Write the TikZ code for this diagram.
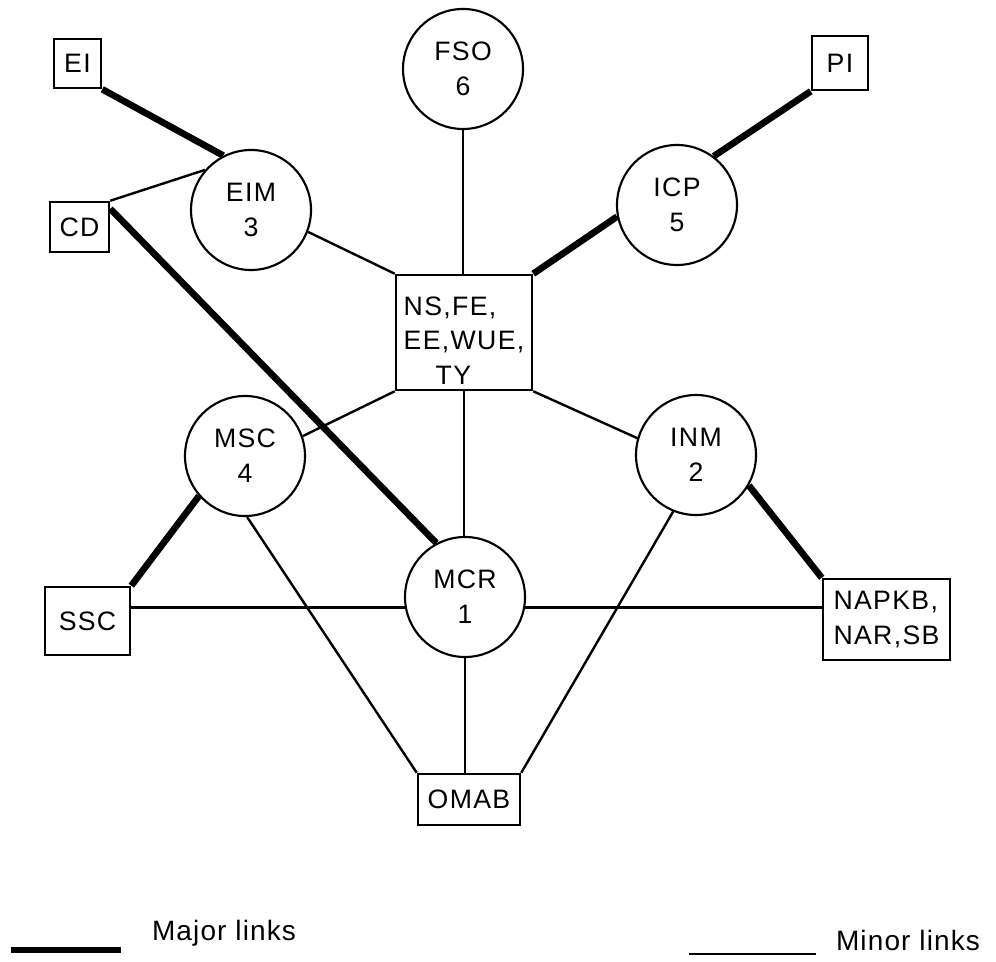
\documentclass[tikz,border=0pt]{standalone}
\usepackage{fontspec}
\newfontfamily\nodefont[LetterSpace=5]{Liberation Sans}
\newfontfamily\legfont[LetterSpace=4]{Liberation Sans}
\begin{document}
\begin{tikzpicture}[x=0.75pt,y=-0.75pt,
  nodetext/.style={font=\nodefont\fontsize{20pt}{26pt}\selectfont},
  circ/.style={circle,draw,line width=1.6pt,fill=white,minimum size=90pt,inner sep=0pt,align=center,nodetext},
  box/.style={rectangle,draw,line width=1.9pt,fill=white,inner sep=0pt,align=center,nodetext},
  major/.style={line width=5pt},
  minor/.style={line width=1.8pt},
  legtext/.style={font=\legfont\fontsize{21pt}{24pt}\selectfont,inner sep=0pt}]
\fill[white] (0,0) rectangle (996,962);
\useasboundingbox (0,0) rectangle (996,962);

% nodes
\node[box,minimum width=35.25pt,minimum height=36.75pt] (ei) at (77.5,63.5) {EI};
\node[box,minimum width=42pt,minimum height=40.5pt] (pi) at (840,63) {PI};
\node[box,minimum width=44.25pt,minimum height=37.5pt] (cd) at (79.5,227) {CD};
\node[circ] (fso) at (463,69) {FSO\\6};
\node[circ] (eim) at (251,210) {EIM\\3};
\node[circ] (icp) at (677,205) {ICP\\5};
\node[box,minimum width=102pt,minimum height=86.25pt,
  label={[name=cbtext,nodetext,align=left,yshift=-6pt,inner sep=0pt]center:NS,FE,\\EE,WUE,\\\hspace*{24pt}TY}] (cb) at (464,332.5) {};
\node[circ] (msc) at (245,456) {MSC\\4};
\node[circ] (inm) at (696,455) {INM\\2};
\node[circ] (mcr) at (465,597) {MCR\\1};
\node[box,minimum width=63.75pt,minimum height=51pt] (ssc) at (87.5,621) {SSC};
\node[box,minimum width=95.25pt,minimum height=60.75pt,align=left] (nap) at (886.5,619.5) {NAPKB,\\NAR,SB};
\node[box,minimum width=76.5pt,minimum height=38.25pt] (omab) at (469,799.5) {OMAB};

% major links
\draw[major] (ei.south east) -- (eim.117);
\draw[major] ([yshift=-6pt]cd.north east) -- (mcr.118);
\draw[major] (pi.south west) -- (icp.53);
\draw[major] (cb.north east) -- (icp.191);
\draw[major] (ssc.north east) -- (msc.221);
\draw[major] (nap.north west) -- (inm.-30);

% minor links
\draw[minor] (cd.north east) -- (eim.139);
\draw[minor] (fso.south) -- (fso.south |- cb.north);
\draw[minor] (eim.-21) -- (cb.north west);
\draw[minor] (cb.south west) -- (msc.19);
\draw[minor] (cb.south east) -- (inm.164);
\draw[minor] (cb.south) -- (cb.south |- mcr.north);
\draw[minor] (mcr.south) -- (mcr.south |- omab.north);
\draw[minor] (msc.-88) -- (omab.north west);
\draw[minor] (inm.-112) -- (omab.north east);
\draw[minor] (mcr.190) -- (mcr.190 -| ssc.east);
\draw[minor] (mcr.-10) -- (mcr.-10 -| nap.west);

% legend
\coordinate (mj1) at (11,950);
\coordinate (mj2) at (121,950);
\draw[major] (mj1) -- (mj2);
\node[legtext] (majlab) at (224,933) {Major links};
\coordinate (mn1) at (689,954);
\coordinate (mn2) at (816,954);
\draw[minor] (mn1) -- (mn2);
\node[legtext] (minlab) at (908,940) {Minor links};
\end{tikzpicture}
\end{document}
